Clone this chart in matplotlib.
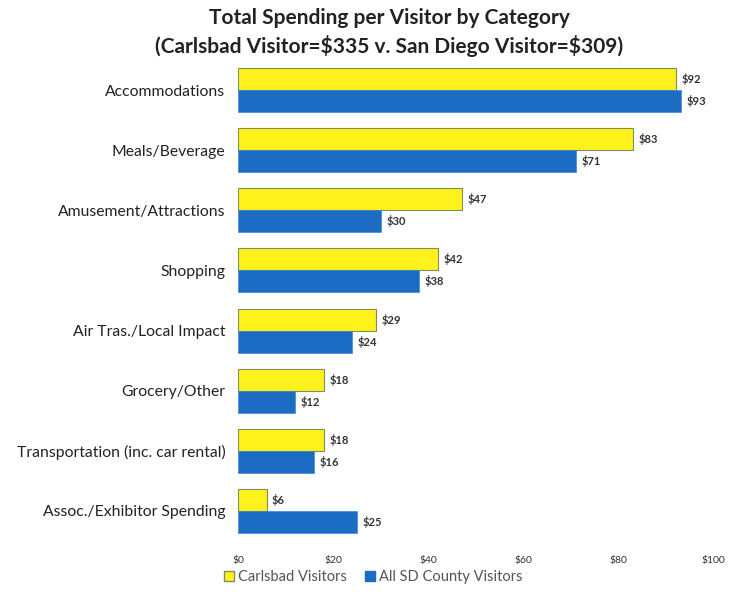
import numpy as np
import matplotlib.pyplot as plt
from matplotlib.patches import Patch

categories = ['Accommodations', 'Meals/Beverage', 'Amusement/Attractions', 'Shopping',
              'Air Tras./Local Impact', 'Grocery/Other', 'Transportation (inc. car rental)',
              'Assoc./Exhibitor Spending']
carlsbad = [92, 83, 47, 42, 29, 18, 18, 6]
sd_county = [93, 71, 30, 38, 24, 12, 16, 25]
xticks = [0, 20, 40, 60, 80, 100]

plt.rcParams['font.family'] = ['Lato', 'DejaVu Sans']
plt.rcParams['text.parse_math'] = False

fig = plt.figure(figsize=(7.39, 5.92), dpi=100)
ax = fig.add_axes([0.322, 0.0912, 0.644, 0.8024])

y = np.arange(len(categories))
h = 0.366
yellow = '#fff21c'
blue = '#1c6cc4'

b1 = ax.barh(y - h / 2, carlsbad, height=h, color=yellow, edgecolor='#7f8f5a', linewidth=0.8)
b2 = ax.barh(y + h / 2, sd_county, height=h, color=blue, edgecolor='#3a8ad8', linewidth=0.5)

# dollar labels just past each bar end
for rect, v in zip(b1, carlsbad):
    ax.annotate(f'${v}', (v, rect.get_y() + rect.get_height() / 2), xytext=(4, 0),
                textcoords='offset points', va='center', ha='left', fontsize=8,
                color='#333333', fontweight='bold')
for rect, v in zip(b2, sd_county):
    ax.annotate(f'${v}', (v, rect.get_y() + rect.get_height() / 2), xytext=(4, 0),
                textcoords='offset points', va='center', ha='left', fontsize=8,
                color='#333333', fontweight='bold')

ax.set_xlim(0, 100)
ax.set_ylim(7.45, -0.45)
ax.set_yticks(y)
ax.set_yticklabels(categories, fontsize=11.3, color='#222222')
ax.set_xticks(xticks)
ax.set_xticklabels([f'${t}' for t in xticks], fontsize=7.5, color='#333333')
ax.tick_params(length=0)
ax.tick_params(axis='x', pad=13)
ax.tick_params(axis='y', pad=9)
for s in ax.spines.values():
    s.set_visible(False)

fig.text(0.527, 0.97, 'Total Spending per Visitor by Category', ha='center', va='center',
         fontsize=15, fontweight='bold', color='#222222')
fig.text(0.527, 0.923, '(Carlsbad Visitor=$335 v. San Diego Visitor=$309)', ha='center',
         va='center', fontsize=15, fontweight='bold', color='#222222')

handles = [Patch(facecolor=yellow, edgecolor='#7f8f5a', label='Carlsbad Visitors'),
           Patch(facecolor=blue, edgecolor=blue, label='All SD County Visitors')]
fig.legend(handles=handles, loc='center', bbox_to_anchor=(0.505, 0.025), ncol=2, frameon=False,
           fontsize=10.5, handlelength=0.7, handleheight=0.7, handletextpad=0.3, columnspacing=1.2,
           labelcolor='#555555')

fig.savefig('out.png', dpi=100)
